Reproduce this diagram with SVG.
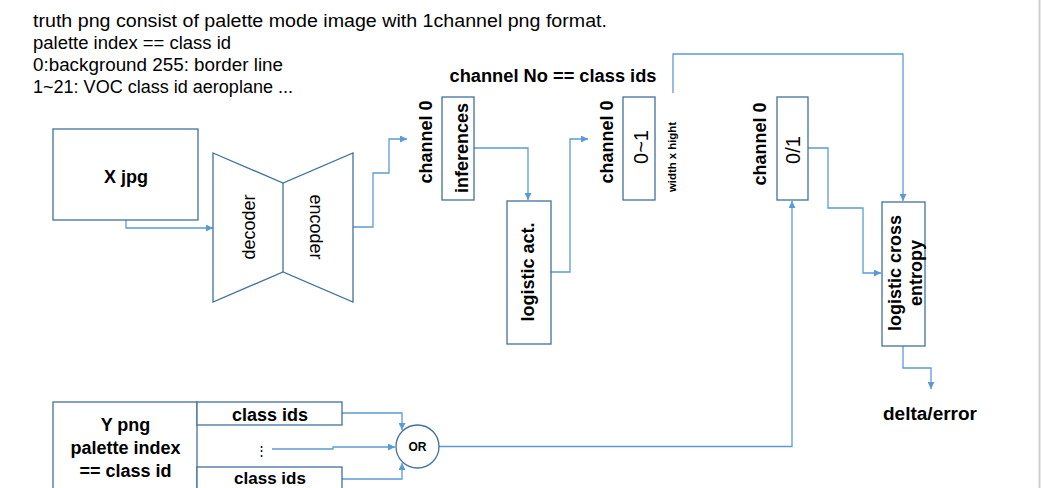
<svg xmlns="http://www.w3.org/2000/svg" width="1041" height="488" viewBox="0 0 1041 488">
<style>
  .box{fill:#ffffff;stroke:#41719C;stroke-width:1.3}
  .con{fill:none;stroke:#5B9BD5;stroke-width:1.3}
  .t{font-family:"Liberation Sans",Arial,sans-serif;fill:#000000}
  .b{font-weight:bold}
  .note{font-size:17.5px}
  .lbl{font-size:18px}
</style>
<defs>
  <marker id="arr" viewBox="0 0 10 10" refX="10" refY="5" markerWidth="7" markerHeight="7" markerUnits="userSpaceOnUse" orient="auto">
    <path d="M0,0 L10,5 L0,10 z" fill="#5B9BD5"/>
  </marker>
</defs>
<rect x="0" y="0" width="1041" height="488" fill="#ffffff"/>
<line x1="1039.5" y1="0" x2="1039.5" y2="488" stroke="#cfcfcf" stroke-width="2"/>

<g id="note">
  <text class="t note" x="33" y="27" textLength="574" lengthAdjust="spacingAndGlyphs">truth png consist of palette mode image with 1channel png format.</text>
  <text class="t note" x="33" y="49" textLength="198" lengthAdjust="spacingAndGlyphs">palette index == class id</text>
  <text class="t note" x="33" y="71" textLength="250" lengthAdjust="spacingAndGlyphs">0:background 255: border line</text>
  <text class="t note" x="33" y="93" textLength="260" lengthAdjust="spacingAndGlyphs">1~21: VOC class id aeroplane ...</text>
</g>

<g id="connectors">
  <path class="con" d="M126,220 V228 H213" marker-end="url(#arr)"/>
  <path class="con" d="M353,227 H373 V173 H389 V139 H407" marker-end="url(#arr)"/>
  <path class="con" d="M474,148 H528 V200" marker-end="url(#arr)"/>
  <path class="con" d="M551,272 H570 V139 H588" marker-end="url(#arr)"/>
  <path class="con" d="M673,93 V54 H903 V201" marker-end="url(#arr)"/>
  <path class="con" d="M808,148 H828 V208 H863 V273 H881" marker-end="url(#arr)"/>
  <path class="con" d="M903,346 V368 H931 V389" marker-end="url(#arr)"/>
  <path class="con" d="M342,413 H402 V430" marker-end="url(#arr)"/>
  <path class="con" d="M272,449 H333 V447 H395" marker-end="url(#arr)"/>
  <path class="con" d="M342,479 H402 V463" marker-end="url(#arr)"/>
  <path class="con" d="M439,446.5 H792 V201" marker-end="url(#arr)"/>
</g>

<g id="x-jpg">
  <rect class="box" x="53" y="129" width="145" height="91"/>
  <text class="t b lbl" x="126" y="183" text-anchor="middle">X jpg</text>
</g>

<g id="autoencoder">
  <polygon class="box" points="213,153 283,183 353,153 353,302 283,272 213,302"/>
  <line x1="283" y1="183" x2="283" y2="272" stroke="#41719C" stroke-width="1.3"/>
  <text class="t lbl" transform="translate(255,227) rotate(-90)" text-anchor="middle">decoder</text>
  <text class="t lbl" transform="translate(310,227) rotate(90)" text-anchor="middle">encoder</text>
</g>

<g id="channel-label-1">
  <text class="t b lbl" transform="translate(432,142) rotate(-90)" text-anchor="middle">channel 0</text>
</g>

<g id="inferences">
  <rect class="box" x="442" y="97" width="32" height="103"/>
  <text class="t b lbl" transform="translate(468,148) rotate(-90)" text-anchor="middle">inferences</text>
</g>

<g id="logistic-act">
  <rect class="box" x="507" y="201" width="44" height="143"/>
  <text class="t b lbl" transform="translate(534,272) rotate(-90)" text-anchor="middle">logistic act.</text>
</g>

<g id="channel-title">
  <text class="t b lbl" x="553" y="82" text-anchor="middle" textLength="207" lengthAdjust="spacingAndGlyphs">channel No == class ids</text>
</g>

<g id="channel-label-2">
  <text class="t b lbl" transform="translate(613,142) rotate(-90)" text-anchor="middle">channel 0</text>
</g>

<g id="range-0-1">
  <rect class="box" x="623" y="97" width="32" height="103"/>
  <text class="t" font-size="20" transform="translate(648,147) rotate(-90)" text-anchor="middle">0~1</text>
  <text class="t b" font-size="11.5" transform="translate(676,157) rotate(-90)" text-anchor="middle" textLength="70" lengthAdjust="spacingAndGlyphs">width x hight</text>
</g>

<g id="channel-label-3">
  <text class="t b lbl" transform="translate(766,144) rotate(-90)" text-anchor="middle">channel 0</text>
</g>

<g id="binary-0-1">
  <rect class="box" x="777" y="97" width="31" height="103"/>
  <text class="t" font-size="20" transform="translate(800,150) rotate(-90)" text-anchor="middle">0/1</text>
</g>

<g id="logistic-cross-entropy">
  <rect class="box" x="882" y="202" width="43" height="144"/>
  <text class="t b lbl" transform="translate(901,273) rotate(-90)" text-anchor="middle">logistic cross</text>
  <text class="t b lbl" transform="translate(922,273) rotate(-90)" text-anchor="middle">entropy</text>
</g>

<g id="delta-error">
  <text class="t b lbl" x="930" y="420" text-anchor="middle" textLength="94" lengthAdjust="spacingAndGlyphs">delta/error</text>
</g>

<g id="y-png">
  <rect class="box" x="53" y="402" width="144" height="100"/>
  <text class="t b lbl" x="125.5" y="431" text-anchor="middle">Y png</text>
  <text class="t b lbl" x="125.5" y="454" text-anchor="middle">palette index</text>
  <text class="t b lbl" x="125.5" y="477" text-anchor="middle">== class id</text>
</g>

<g id="class-ids-top">
  <rect class="box" x="197" y="402" width="145" height="23"/>
  <text class="t b lbl" x="270" y="421" text-anchor="middle">class ids</text>
</g>

<g id="class-ids-dots">
  <text class="t" font-family="DejaVu Sans" font-size="13" x="261" y="455" text-anchor="middle">⋮</text>
</g>

<g id="class-ids-bottom">
  <rect class="box" x="197" y="467" width="145" height="30"/>
  <text class="t b" font-size="17" x="270" y="484" text-anchor="middle">class ids</text>
</g>

<g id="or-gate">
  <circle class="box" cx="417.5" cy="446.5" r="21.5"/>
  <text class="t b" font-size="12" x="417.5" y="451" text-anchor="middle">OR</text>
</g>
</svg>
